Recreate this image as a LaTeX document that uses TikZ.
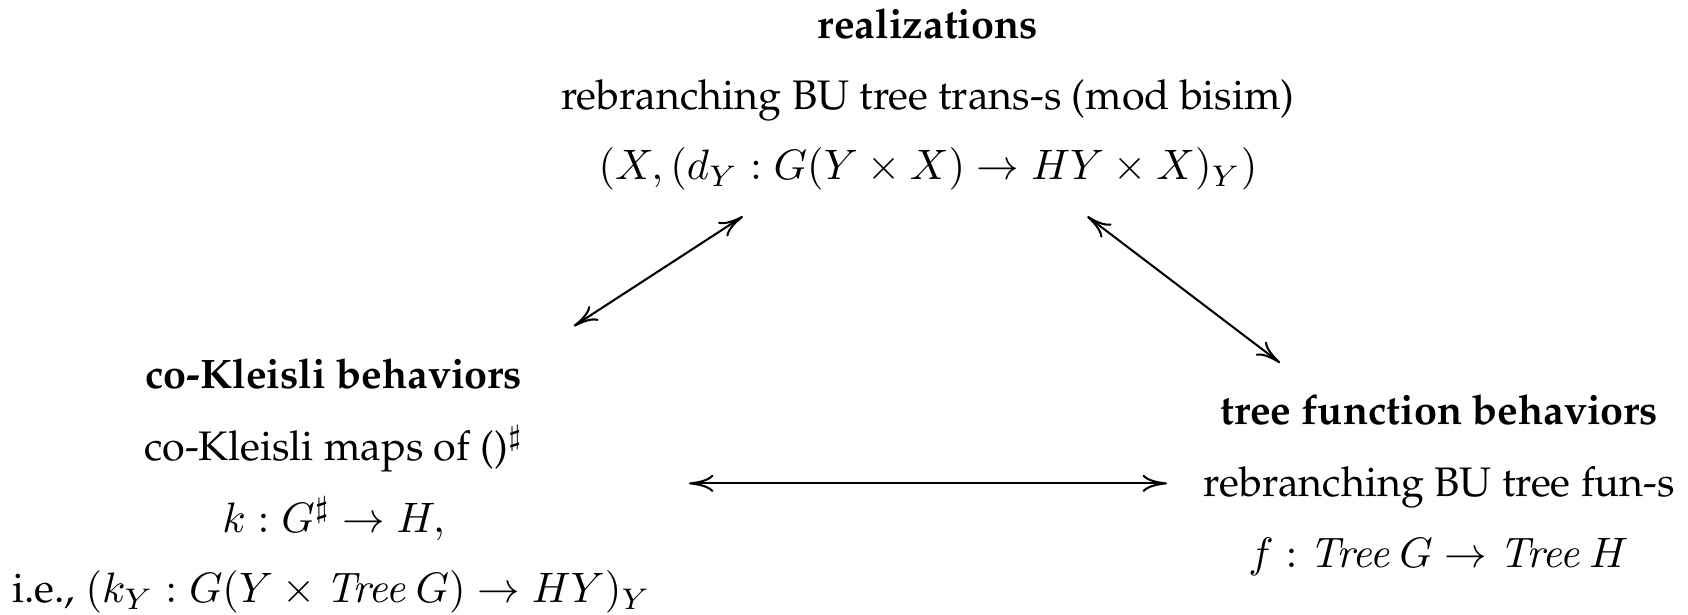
\RequirePackage{fix-cm}
\documentclass[tikz,border=0pt]{standalone}
\usepackage[T1]{fontenc}
\renewcommand\rmdefault{ppl}
\usetikzlibrary{arrows.meta}
\tikzset{
  txt/.style={anchor=base, inner sep=0pt, font=\fontsize{11}{13}\selectfont},
  mth/.style={anchor=base, inner sep=0pt, font=\fontsize{11.35}{13}\selectfont},
  ttl/.style={txt, font=\fontsize{11}{13}\selectfont\bfseries},
  conn/.style={line width=0.55pt, {Computer Modern Rightarrow[length=6.5pt,width=4.6pt]}-{Computer Modern Rightarrow[length=6.5pt,width=4.6pt]}}
}
\begin{document}
\begin{tikzpicture}[x=0.28699pt, y=-0.28699pt]
\useasboundingbox (0,0) rectangle (1568,571);
% top block
\node[ttl] (t1) at (862,36) {realizations};
\node[txt] (t2) at (862,102) {rebranching BU tree trans-s (mod bisim)};
\node[mth] (t3) at (862,167) {$(X, (d_Y : G(Y \times X) \to HY \times X)_Y)$};
% left block
\node[ttl] (l1) at (310,361) {co-Kleisli behaviors};
\node[txt] (l2) at (310,428) {co-Kleisli maps of ()$^\sharp$};
\node[mth] (l3) at (310,495) {$k : G^\sharp \to H,$};
\node[txt] (l4) at (308,560) {i.e., {\fontsize{11.35}{13}\selectfont$(k_Y : G(Y \times \mathit{Tree}\,G) \to HY)_Y$}};
% right block
\node[ttl] (r1) at (1337,394) {tree function behaviors};
\node[txt] (r2) at (1337,461) {rebranching BU tree fun-s};
\node[mth] (r3) at (1336,527) {$f : \mathit{Tree}\,G \to \mathit{Tree}\,H$};
% connector ends
\coordinate (a1) at (533,303);
\coordinate (a2) at (690,201);
\coordinate (b1) at (1010,201);
\coordinate (b2) at (1189,337);
\coordinate (c1) at (640,449);
\coordinate (c2) at (1084,449);
\draw[conn] (a1) -- (a2);
\draw[conn] (b1) -- (b2);
\draw[conn] (c1) -- (c2);
\end{tikzpicture}
\end{document}
